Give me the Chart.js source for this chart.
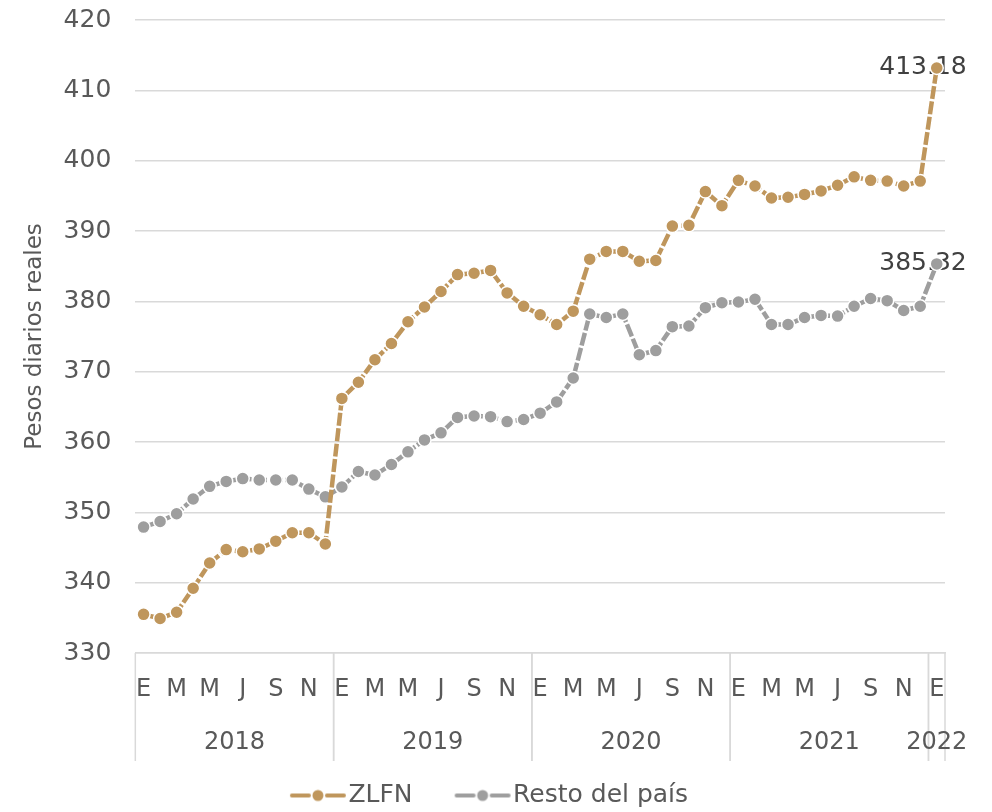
<!DOCTYPE html>
<html>
<head>
<meta charset="utf-8">
<script src="https://cdn.jsdelivr.net/npm/chart.js@4.4.1/dist/chart.umd.min.js"></script>
<style>
  html, body { margin: 0; padding: 0; background: #fff; }
  #wrap { width: 992px; height: 812px; }
</style>
</head>
<body>
<div id="wrap"><canvas id="salarios" width="992" height="812"></canvas></div>
<script>
// datos: enero 2018 - enero 2022
const mesesLetras = ['E','F','M','A','M','J','J','A','S','O','N','D'];
const anios = ['2018','2019','2020','2021','2022'];

const zlfn = [
  335.5, 334.9, 335.8, 339.2, 342.8, 344.7, 344.4, 344.8, 345.9, 347.1, 347.1, 345.5,
  366.2, 368.5, 371.7, 374.0, 377.1, 379.2, 381.4, 383.8, 384.0, 384.4, 381.2, 379.3,
  378.1, 376.7, 378.6, 386.0, 387.1, 387.1, 385.7, 385.8, 390.7, 390.8, 395.6, 393.6,
  397.2, 396.4, 394.7, 394.8, 395.2, 395.7, 396.5, 397.7, 397.2, 397.1, 396.4, 397.1,
  413.18
];
const resto = [
  347.9, 348.7, 349.8, 351.9, 353.7, 354.4, 354.8, 354.6, 354.6, 354.6, 353.3, 352.2,
  353.6, 355.8, 355.3, 356.8, 358.6, 360.3, 361.3, 363.5, 363.7, 363.6, 362.9, 363.2,
  364.1, 365.7, 369.1, 378.2, 377.7, 378.2, 372.4, 373.0, 376.4, 376.5, 379.1, 379.8,
  379.9, 380.3, 376.7, 376.7, 377.7, 378.0, 377.9, 379.3, 380.4, 380.1, 378.7, 379.3,
  385.32
];

const etiquetas = [];
const anioDe = [];
anios.forEach((a, k) => {
  const n = (k === anios.length - 1) ? 1 : 12;
  for (let m = 0; m < n; m++) { etiquetas.push(mesesLetras[m]); anioDe.push(a); }
});

const oro = '#BF965C';
const gris = '#9E9E9E';
const textoGris = '#595959';
const fuente = '"DejaVu Sans", sans-serif';

// icono linea-punto-linea, corrido a la derecha para que toque el texto
const iconoLeyenda = color => {
  const c = document.createElement('canvas');
  c.width = 82; c.height = 14;
  const g = c.getContext('2d');
  g.strokeStyle = color; g.lineWidth = 4; g.lineCap = 'round';
  g.beginPath(); g.moveTo(26, 7); g.lineTo(43, 7); g.moveTo(61, 7); g.lineTo(78, 7); g.stroke();
  g.fillStyle = color;
  g.beginPath(); g.arc(52, 7, 5.5, 0, Math.PI * 2); g.fill();
  return c;
};

const aniosPlugin = {
  id: 'anios',
  afterDraw(chart) {
    const {ctx, chartArea} = chart;
    const x = chart.scales.x;
    const mitad = (x.getPixelForValue(1) - x.getPixelForValue(0)) / 2;
    const base = chartArea.bottom;
    ctx.save();
    ctx.strokeStyle = '#d9d9d9';
    ctx.lineWidth = 1.5;
    ctx.fillStyle = textoGris;
    ctx.font = '24px ' + fuente;
    ctx.textAlign = 'center';
    ctx.textBaseline = 'middle';
    let ini = 0;
    anios.forEach(a => {
      const n = anioDe.filter(v => v === a).length;
      const x0 = x.getPixelForValue(ini) - mitad;
      const x1 = x.getPixelForValue(ini + n - 1) + mitad;
      [x0, x1].forEach(px => {
        ctx.beginPath(); ctx.moveTo(px, base); ctx.lineTo(px, base + 108); ctx.stroke();
      });
      ctx.fillText(a, (x0 + x1) / 2, base + 90);
      ini += n;
    });
    ctx.restore();
  }
};

const etiquetaFinal = {
  id: 'etiquetaFinal',
  beforeDatasetsDraw(chart) {
    const {ctx} = chart;
    ctx.save();
    ctx.fillStyle = '#404040';
    ctx.font = '25px ' + fuente;
    ctx.textAlign = 'right';
    ctx.textBaseline = 'middle';
    chart.data.datasets.forEach((ds, i) => {
      const pts = chart.getDatasetMeta(i).data;
      const p = pts[pts.length - 1];
      ctx.fillText(ds.data[ds.data.length - 1].toFixed(2), p.x + 30, p.y);
    });
    ctx.restore();
  }
};

const serie = (label, data, color) => ({
  label: label,
  data: data,
  borderColor: color,
  backgroundColor: color,
  borderWidth: 4.5,
  borderDash: [13, 2.5],
  pointRadius: 6.5,
  pointHoverRadius: 6.5,
  pointBackgroundColor: color,
  pointBorderColor: '#ffffff',
  pointBorderWidth: 1.5,
  tension: 0
});

new Chart('salarios', {
  type: 'line',
  data: {
    labels: etiquetas,
    datasets: [
      serie('ZLFN', zlfn, oro),
      serie('Resto del país', resto, gris)
    ]
  },
  options: {
    responsive: false,
    animation: false,
    layout: { padding: { left: 21, right: 47, top: 20, bottom: -6 } },
    plugins: {
      tooltip: { enabled: false },
      legend: {
        position: 'bottom',
        labels: {
          color: textoGris,
          font: { size: 25, family: fuente },
          usePointStyle: true,
          pointStyleWidth: 58,
          padding: 30,
          generateLabels: chart => chart.data.datasets.map((ds, i) => ({
            text: ds.label,
            pointStyle: iconoLeyenda(ds.borderColor),
            fillStyle: ds.borderColor,
            strokeStyle: ds.borderColor,
            fontColor: textoGris,
            lineWidth: 0,
            datasetIndex: i
          }))
        }
      }
    },
    scales: {
      x: {
        offset: true,
        grid: { display: false },
        border: { color: '#d9d9d9', width: 1.5 },
        ticks: {
          autoSkip: false,
          maxRotation: 0,
          color: textoGris,
          font: { size: 24, family: fuente },
          padding: 14,
          callback: (v, i) => (i % 2 === 0 ? etiquetas[i] : '')
        },
        afterFit: scale => { scale.height = 100; }
      },
      y: {
        min: 330,
        max: 420,
        border: { display: false },
        grid: { color: '#d9d9d9', lineWidth: 1.5, tickColor: 'rgba(0,0,0,0)', tickLength: 24 },
        ticks: {
          stepSize: 10,
          color: textoGris,
          font: { size: 25, family: fuente },
          padding: 0
        },
        title: {
          display: true,
          text: 'Pesos diarios reales',
          color: textoGris,
          font: { size: 23, family: fuente },
          padding: { top: 0, bottom: 15 }
        }
      }
    }
  },
  plugins: [aniosPlugin, etiquetaFinal]
});
</script>
</body>
</html>
